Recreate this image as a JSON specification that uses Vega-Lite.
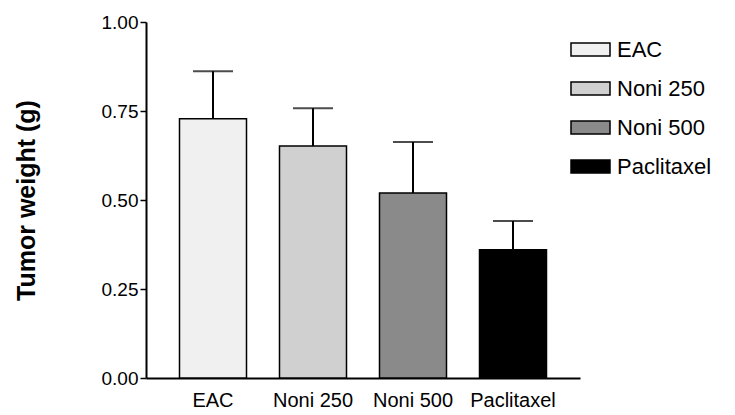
{
  "$schema": "https://vega.github.io/schema/vega-lite/v6.json",
  "width": 434,
  "height": 356,
  "autosize": "none",
  "padding": {"left": 146, "top": 22, "right": 155, "bottom": 37},
  "background": "white",
  "config": {"view": {"stroke": null}, "font": "Liberation Sans"},
  "data": {"values": [
    {"group": "EAC", "mean": 0.728, "upper": 0.862},
    {"group": "Noni 250", "mean": 0.652, "upper": 0.758},
    {"group": "Noni 500", "mean": 0.52, "upper": 0.663},
    {"group": "Paclitaxel", "mean": 0.36, "upper": 0.441}
  ]},
  "encoding": {
    "x": {"field": "group", "type": "nominal", "sort": null,
      "scale": {"paddingInner": 0.33, "paddingOuter": 0.335},
      "axis": {"title": null, "labelAngle": 0, "ticks": false, "domainColor": "black", "domainWidth": 2,
        "labelFont": "Liberation Sans", "labelFontSize": 20, "labelColor": "black", "labelPadding": 12}}
  },
  "layer": [
    {
      "mark": {"type": "bar", "stroke": "black", "strokeWidth": 1.5, "opacity": 1},
      "encoding": {
        "y": {"field": "mean", "type": "quantitative",
          "scale": {"domain": [0, 1], "nice": false},
          "axis": {"title": "Tumor weight (g)", "titleFontSize": 25, "titleFontWeight": "bold", "titleColor": "black",
            "titleFont": "Liberation Sans", "titlePadding": 62, "values": [0, 0.25, 0.5, 0.75, 1], "format": ".2f", "grid": false,
            "domainColor": "black", "domainWidth": 2, "tickColor": "black", "tickWidth": 1.5, "tickSize": 6,
            "labelFont": "Liberation Sans", "labelFontSize": 19, "labelColor": "black", "labelPadding": 2}},
        "fill": {"field": "group", "type": "nominal", "sort": null,
          "scale": {"range": ["#f0f0f0", "#d0d0d0", "#8a8a8a", "#000000"]},
          "legend": {"title": null, "orient": "none", "legendX": 424, "legendY": 7,
            "symbolType": "M-1,-0.33H1V0.33H-1Z", "symbolSize": 1521, "symbolStrokeColor": "black",
            "symbolStrokeWidth": 1.5, "symbolOpacity": 1, "labelFont": "Liberation Sans",
            "labelFontSize": 22, "labelColor": "black", "labelOffset": 6, "rowPadding": 7}}
      }
    },
    {
      "mark": {"type": "rule", "color": "black", "strokeWidth": 2},
      "encoding": {"y": {"field": "mean", "type": "quantitative"}, "y2": {"field": "upper"}}
    },
    {
      "mark": {"type": "tick", "color": "black", "thickness": 2, "size": 40, "orient": "horizontal"},
      "encoding": {"y": {"field": "upper", "type": "quantitative"}}
    }
  ]
}
